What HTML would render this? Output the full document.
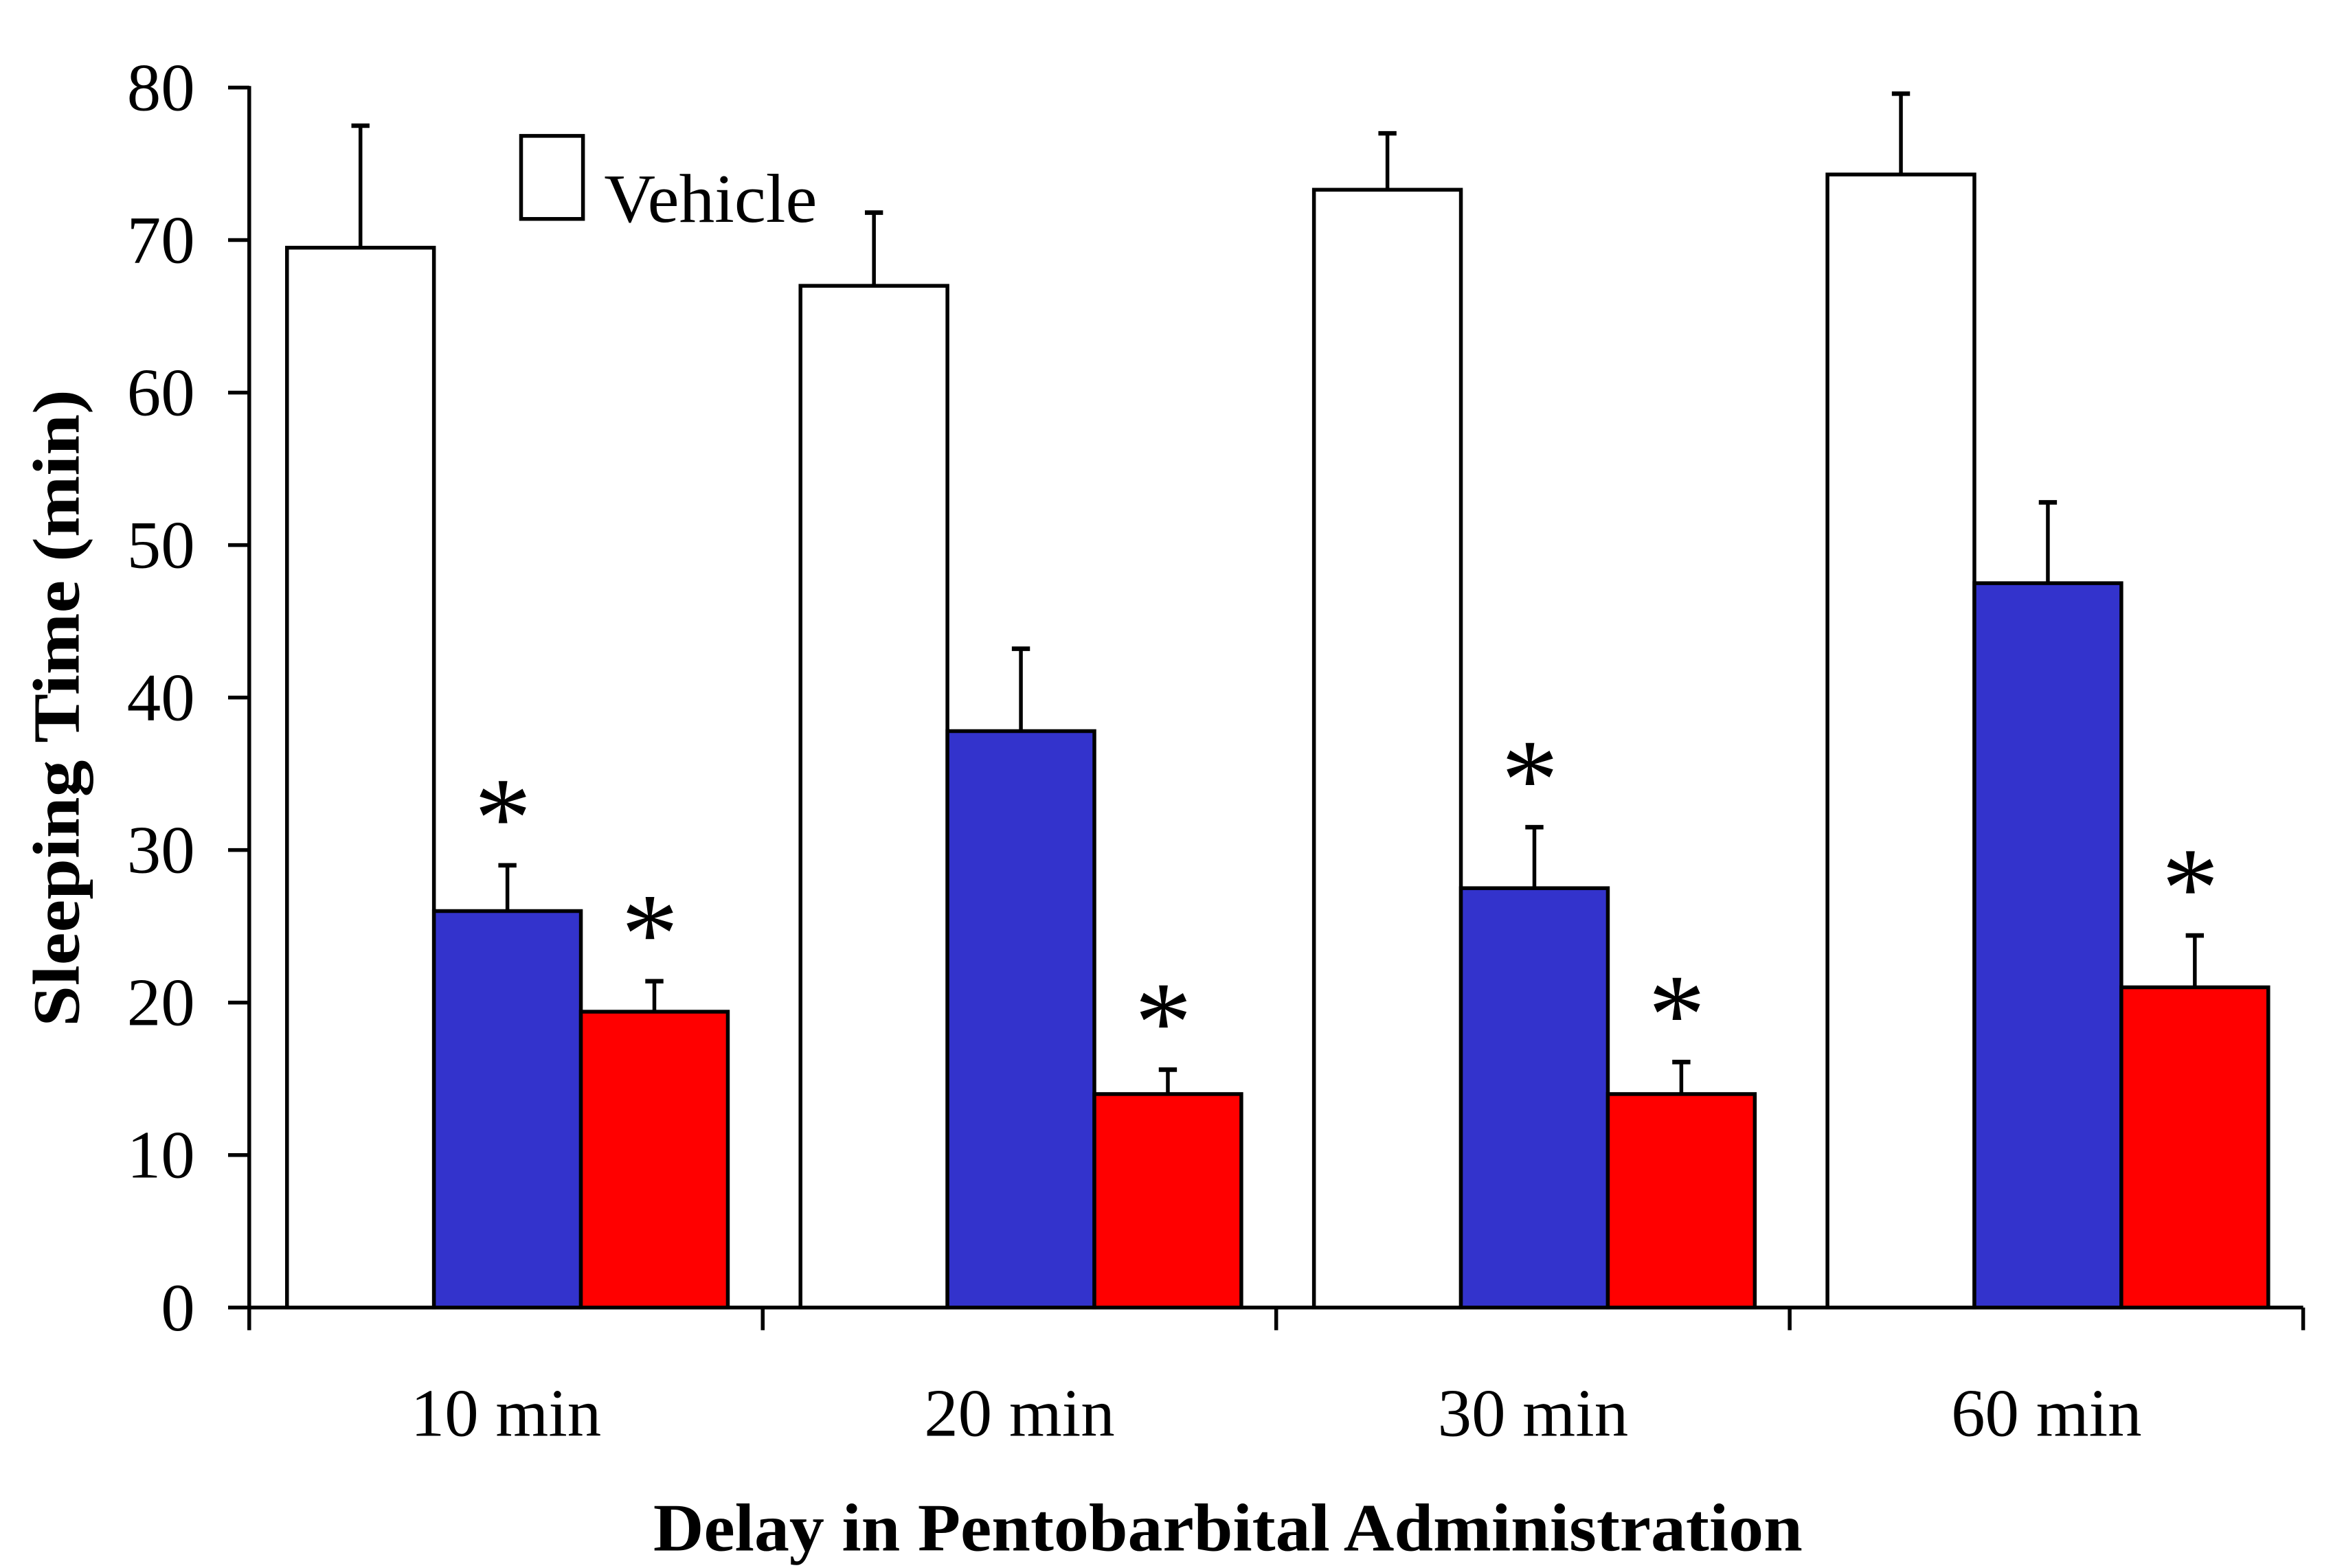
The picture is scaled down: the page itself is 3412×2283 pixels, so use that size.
<!DOCTYPE html>
<html><head><meta charset="utf-8"><style>
html,body{margin:0;padding:0;background:#fff;}
svg{display:block;}
text{font-family:"Liberation Serif",serif;fill:#000;}
</style></head><body>
<svg id="chart" width="3412" height="2283" viewBox="0 0 1552 1038.5" xmlns="http://www.w3.org/2000/svg">
<rect width="1552" height="1038.5" fill="#fff"/>
<g id="plot"></g>
<text transform="translate(52,469) rotate(-90)" text-anchor="middle" font-size="44" font-weight="bold" textLength="422" lengthAdjust="spacingAndGlyphs">Sleeping Time (min)</text>
<text x="813" y="1027" text-anchor="middle" font-size="45" font-weight="bold" textLength="761" lengthAdjust="spacingAndGlyphs">Delay in Pentobarbital Administration</text>
<rect x="345" y="90" width="41" height="55" fill="#fff" stroke="#000" stroke-width="2.5"/>
<text x="400" y="147" font-size="46" textLength="141" lengthAdjust="spacingAndGlyphs">Vehicle</text>
</svg>
<script>
const categories = ["10 min","20 min","30 min","60 min"];
const vehicle = [69.5, 67, 73.3, 74.3];
const vehicleErr = [8, 4.8, 3.7, 5.3];
const blue = [26, 37.8, 27.5, 47.5];
const blueErr = [3, 5.4, 4, 5.3];
const red = [19.4, 14, 14, 21];
const redErr = [2, 1.6, 2.1, 3.4];
const blueSig = [true, false, true, false];
const redSig = [true, true, true, true];
const yTicks = [0,10,20,30,40,50,60,70,80];

const NS = "http://www.w3.org/2000/svg";
const g = document.getElementById('plot');
const x0 = 165, x1 = 1525, yBase = 866, yTop = 58;
const yScale = v => yBase - (v / 80) * (yBase - yTop);
const groupW = (x1 - x0) / categories.length;
const barW = 97.3;
const groupStart = i => x0 + i * groupW + 25;
function mk(tag, attrs) { const e = document.createElementNS(NS, tag); for (const k in attrs) e.setAttribute(k, attrs[k]); g.appendChild(e); return e; }

let e = mk('line', {x1:x0, y1:yTop-1, x2:x0, y2:yBase+1, stroke:'#000','stroke-width':2.5});


e = mk('line', {x1:x0, y1:yBase, x2:x1, y2:yBase, stroke:'#000','stroke-width':2.5});



yTicks.forEach(t => {
  const y = yScale(t);
  let l = mk('line', {x1:x0-14, y1:y, x2:x0, y2:y, stroke:'#000','stroke-width':2.5});
  
  
  let tx = mk('text', {x:129, y:y+15, 'text-anchor':'end','font-size':45});
  tx.textContent = t;
  
  
});
for (let i = 0; i <= categories.length; i++) {
  const x = x0 + i * groupW;
  let l = mk('line', {x1:x, y1:yBase, x2:x, y2:yBase+15, stroke:'#000','stroke-width':2.5});
  
  
}
categories.forEach((c, i) => {
  let tx = mk('text', {x:x0 + (i+0.5)*groupW, y:951, 'text-anchor':'middle','font-size':45});
  tx.textContent = c;
  
  
});

function bar(i, j, val, err, fill, name, sig) {
  const x = groupStart(i) + j * barW;
  const y = yScale(val);
  let r = mk('rect', {x:x, y:y, width:barW, height:yBase - y, fill:fill, stroke:'#000','stroke-width':2.5});
  
  
  const cx = x + barW/2, ye = yScale(val + err);
  let el = mk('line', {x1:cx, y1:y, x2:cx, y2:ye, stroke:'#000','stroke-width':2.5});
  
  
  let cap = mk('line', {x1:cx-6, y1:ye, x2:cx+6, y2:ye, stroke:'#000','stroke-width':3});
  
  
  if (sig) {
    let s = mk('text', {x:cx-3, y:ye-6, 'text-anchor':'middle','font-size':76});
    s.textContent = '*';
    
    
  }
}
categories.forEach((c, i) => {
  bar(i, 0, vehicle[i], vehicleErr[i], '#ffffff', 'bar-vehicle', false);
  bar(i, 1, blue[i], blueErr[i], '#3333cc', 'bar-treatment-blue', blueSig[i]);
  bar(i, 2, red[i], redErr[i], '#ff0000', 'bar-treatment-red', redSig[i]);
});
</script>
</body></html>
